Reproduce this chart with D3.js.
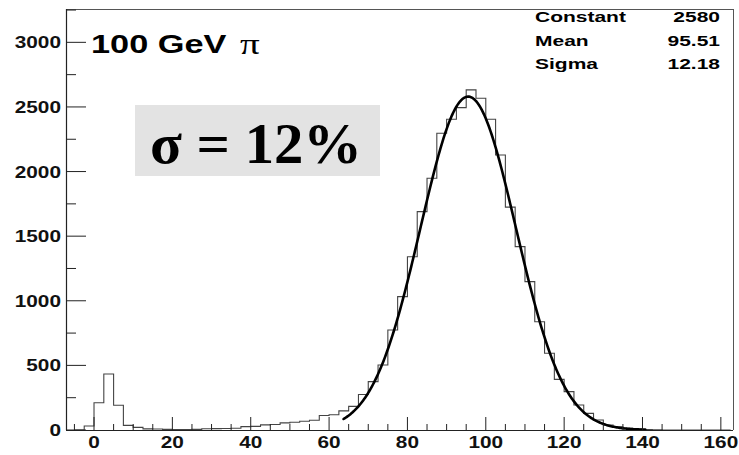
<!DOCTYPE html>
<html>
<head>
<meta charset="utf-8">
<script src="https://cdn.jsdelivr.net/npm/d3@7"></script>
<style>
  html, body { margin: 0; padding: 0; background: #fff; }
  svg { display: block; }
  .serif { font-family: "Liberation Serif", "Times New Roman", Times, serif; }
  .sans { font-family: "Liberation Sans", Arial, Helvetica, sans-serif; font-weight: bold; }
</style>
</head>
<body>
<svg id="chart" width="739" height="455"></svg>
<script>
// ---- data ----
const binStart = -5;
const binWidth = 2.5;
const binCounts = [
  0, 31, 211, 433, 191, 36, 20, 9, 8, 5,
  4, 4, 5, 10, 11, 12, 14, 26, 28, 40,
  42, 55, 60, 68, 76, 112, 118, 148, 183, 275,
  374, 503, 774, 1032, 1341, 1690, 1948, 2296, 2405, 2495,
  2632, 2567, 2405, 2128, 1725, 1419, 1148, 838, 594, 392,
  297, 193, 129, 77, 39, 24, 14, 7, 3, 1,
  0, 0, 0, 0, 0, 0, 0
];
const fitConstant = 2580;
const fitMean = 95.51;
const fitSigma = 12.18;
const fitRange = [63.7, 140.7];
const statNames = ["Constant", "Mean", "Sigma"];
const statValues = ["2580", "95.51", "12.18"];
const xTicks = [0, 20, 40, 60, 80, 100, 120, 140, 160];
const yTicks = [0, 500, 1000, 1500, 2000, 2500, 3000];
const titleText = "100 GeV";
const particleText = "\u03C0";
const resolutionText = "\u03C3 = 12%";

// ---- layout ----
const svg = d3.select("#chart");
const L = 66, R = 733, T = 9, B = 430;
const x = d3.scaleLinear().domain([-7.15, 163.1]).range([L, R]);
const y = d3.scaleLinear().domain([0, 3258]).range([B, T]);

// frame
svg.append("line").attr("x1", L).attr("x2", R).attr("y1", T + 0.5).attr("y2", T + 0.5)
  .attr("stroke", "#555").attr("stroke-width", 1);
svg.append("line").attr("x1", R + 0.5).attr("x2", R + 0.5).attr("y1", T).attr("y2", B)
  .attr("stroke", "#555").attr("stroke-width", 1);

// histogram step path
const pts = [];
binCounts.forEach((c, i) => {
  const lo = binStart + i * binWidth;
  const hi = lo + binWidth;
  pts.push([lo, c], [hi, c]);
});
const stepPts = [[binStart, 0], ...pts, [binStart + binCounts.length * binWidth, 0]];
const histLine = d3.line().x(d => x(d[0])).y(d => y(d[1]));
svg.append("path")
  .attr("d", histLine(stepPts.filter(d => d[0] <= 163.1)))
  .attr("fill", "none").attr("stroke", "#444").attr("stroke-width", 1.1);

// fit curve (Gaussian from displayed fit parameters)
const fitXs = d3.range(fitRange[0], fitRange[1] + 0.001, 0.25);
const fitLine = d3.line()
  .x(v => x(v))
  .y(v => y(fitConstant * Math.exp(-0.5 * Math.pow((v - fitMean) / fitSigma, 2))));
svg.append("path").attr("d", fitLine(fitXs))
  .attr("fill", "none").attr("stroke", "#000").attr("stroke-width", 2.6)
  .attr("stroke-linejoin", "round").attr("stroke-linecap", "round");

// axes
const gx = svg.append("g").attr("transform", `translate(0,${B})`);
gx.append("line").attr("x1", L).attr("x2", R).attr("y1", 0.5).attr("y2", 0.5)
  .attr("stroke", "#222").attr("stroke-width", 1.2);
const xMinor = d3.range(-5, 161, 5).filter(v => !xTicks.includes(v));
gx.selectAll("line.minor").data(xMinor).join("line")
  .attr("x1", d => x(d)).attr("x2", d => x(d)).attr("y1", 0).attr("y2", -6)
  .attr("stroke", "#222").attr("stroke-width", 1);
gx.selectAll("line.major").data(xTicks).join("line")
  .attr("x1", d => x(d)).attr("x2", d => x(d)).attr("y1", 0).attr("y2", -13)
  .attr("stroke", "#222").attr("stroke-width", 1);
gx.selectAll("text").data(xTicks).join("text")
  .attr("class", "sans")
  .attr("transform", d => `translate(${x(d)},18) scale(1.3,1)`)
  .attr("text-anchor", "middle")
  .attr("font-size", 16)
  .attr("fill", "#111")
  .text(d => d);

const gy = svg.append("g");
gy.append("line").attr("x1", L + 0.5).attr("x2", L + 0.5).attr("y1", T).attr("y2", B)
  .attr("stroke", "#222").attr("stroke-width", 1.2);
const yMinor = d3.range(250, 3251, 500);
gy.selectAll("line.minor").data(yMinor).join("line")
  .attr("x1", L).attr("x2", L + 10).attr("y1", d => y(d)).attr("y2", d => y(d))
  .attr("stroke", "#222").attr("stroke-width", 1);
gy.selectAll("line.major").data(yTicks).join("line")
  .attr("x1", L).attr("x2", L + 20).attr("y1", d => y(d)).attr("y2", d => y(d))
  .attr("stroke", "#222").attr("stroke-width", 1);
gy.selectAll("text").data(yTicks).join("text")
  .attr("class", "sans")
  .attr("transform", d => `translate(61,${y(d) + 6}) scale(1.3,1)`)
  .attr("text-anchor", "end")
  .attr("font-size", 16)
  .attr("fill", "#111")
  .text(d => d);

// title "100 GeV π"
svg.append("text")
  .attr("class", "sans")
  .attr("transform", "translate(91,53) scale(1.32,1)")
  .attr("font-size", 26)
  .attr("fill", "#000").text(titleText);
svg.append("text")
  .attr("class", "serif")
  .attr("transform", "translate(240,54) scale(1.3,1)")
  .attr("font-size", 30)
  .attr("fill", "#000").text(particleText);

// resolution box
svg.append("rect").attr("x", 135).attr("y", 105).attr("width", 245).attr("height", 71)
  .attr("fill", "#e3e3e3");
svg.append("text")
  .attr("class", "serif")
  .attr("x", 150).attr("y", 163)
  .attr("font-weight", "bold").attr("font-size", 56)
  .attr("textLength", 212).attr("lengthAdjust", "spacingAndGlyphs")
  .attr("fill", "#000").text(resolutionText);

// stats
const rowY = [21.5, 45.5, 68.5];
statNames.forEach((n, i) => {
  svg.append("text")
    .attr("class", "sans")
    .attr("transform", `translate(535,${rowY[i]}) scale(1.5,1)`)
    .attr("font-size", 14)
    .attr("fill", "#000").text(n);
  svg.append("text")
    .attr("class", "sans")
    .attr("transform", `translate(720,${rowY[i]}) scale(1.5,1)`)
    .attr("text-anchor", "end")
    .attr("font-size", 14)
    .attr("fill", "#000").text(statValues[i]);
});
</script>
</body>
</html>
